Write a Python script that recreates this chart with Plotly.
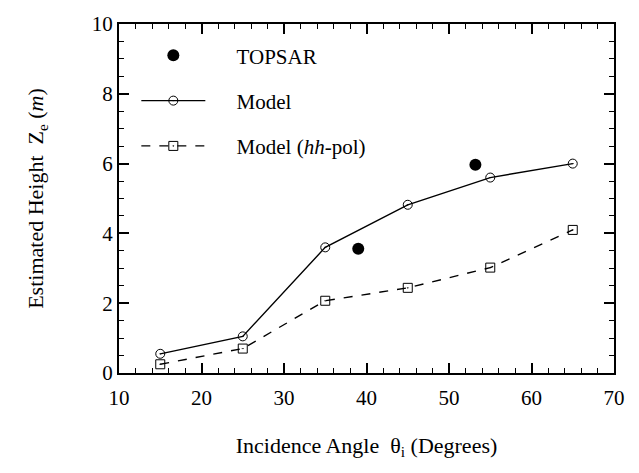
import plotly.graph_objects as go

angles = [15, 25, 35, 45, 55, 65]
model = [0.55, 1.05, 3.6, 4.82, 5.6, 6.0]
model_hh = [0.25, 0.7, 2.07, 2.44, 3.02, 4.1]
topsar_x = [39, 53.2]
topsar_y = [3.56, 5.97]

FONT = "Liberation Serif"
PAD = "\u00a0" * 5

fig = go.Figure()
fig.add_trace(go.Scatter(
    x=topsar_x, y=topsar_y, mode="markers", name=PAD + "TOPSAR",
    marker=dict(symbol="circle", size=12, color="black"),
    legendgroup="a"))
fig.add_trace(go.Scatter(
    x=angles, y=model, mode="lines+markers", name=PAD + "Model",
    line=dict(color="black", width=1.4),
    marker=dict(symbol="circle-open-dot", size=9, color="black", line=dict(width=1)),
    legendgroup="b"))
fig.add_trace(go.Scatter(
    x=angles, y=model_hh, mode="lines+markers", name=PAD + "Model (<i>hh</i>-pol)",
    line=dict(color="black", width=1.4, dash="dash"),
    marker=dict(symbol="square-open-dot", size=9, color="black", line=dict(width=1)),
    legendgroup="c"))
# invisible trace binding the mirror axes (top / right) so they are drawn
fig.add_trace(go.Scatter(
    x=angles, y=model, mode="markers", xaxis="x2", yaxis="y2",
    marker=dict(opacity=0), showlegend=False, hoverinfo="skip"))

axis_common = dict(
    showline=True, linecolor="black", linewidth=2,
    ticks="inside", ticklen=10, tickwidth=1.6, tickcolor="black",
    showgrid=False, zeroline=False,
    tickfont=dict(family=FONT, size=21, color="black"),
)
xminor = dict(dtick=2, ticks="inside", ticklen=5, tickcolor="black", tickwidth=1.2)
yminor = dict(dtick=0.5, ticks="inside", ticklen=5, tickcolor="black", tickwidth=1.2)

fig.update_layout(
    width=639, height=473,
    margin=dict(l=119, r=25, t=16, b=100),
    paper_bgcolor="white", plot_bgcolor="white",
    font=dict(family=FONT, color="black"),
    showlegend=True,
    legend=dict(
        x=0.035, y=0.968, xanchor="left", yanchor="top",
        font=dict(family=FONT, size=21, color="black"),
        bgcolor="rgba(0,0,0,0)", traceorder="grouped", tracegroupgap=15,
        itemwidth=64,
    ),
    xaxis=dict(
        range=[10, 70], dtick=10, tick0=10, minor=xminor,
        ticklabelstandoff=5,
        title=dict(text="Incidence Angle  θ<sub>i</sub> (Degrees)",
                   font=dict(family=FONT, size=22, color="black"), standoff=28),
        **axis_common,
    ),
    yaxis=dict(
        range=[0, 10], dtick=2, minor=yminor,
        title=dict(text="Estimated Height  Z<sub>e</sub> (<i>m</i>)",
                   font=dict(family=FONT, size=22, color="black"), standoff=42),
        **axis_common,
    ),
    xaxis2=dict(
        range=[10, 70], dtick=10, tick0=10, minor=xminor,
        overlaying="x", side="top", anchor="y", showticklabels=False,
        **axis_common,
    ),
    yaxis2=dict(
        range=[0, 10], dtick=2, minor=yminor,
        overlaying="y", side="right", anchor="x", showticklabels=False,
        **axis_common,
    ),
)

fig.write_html("out.html")
